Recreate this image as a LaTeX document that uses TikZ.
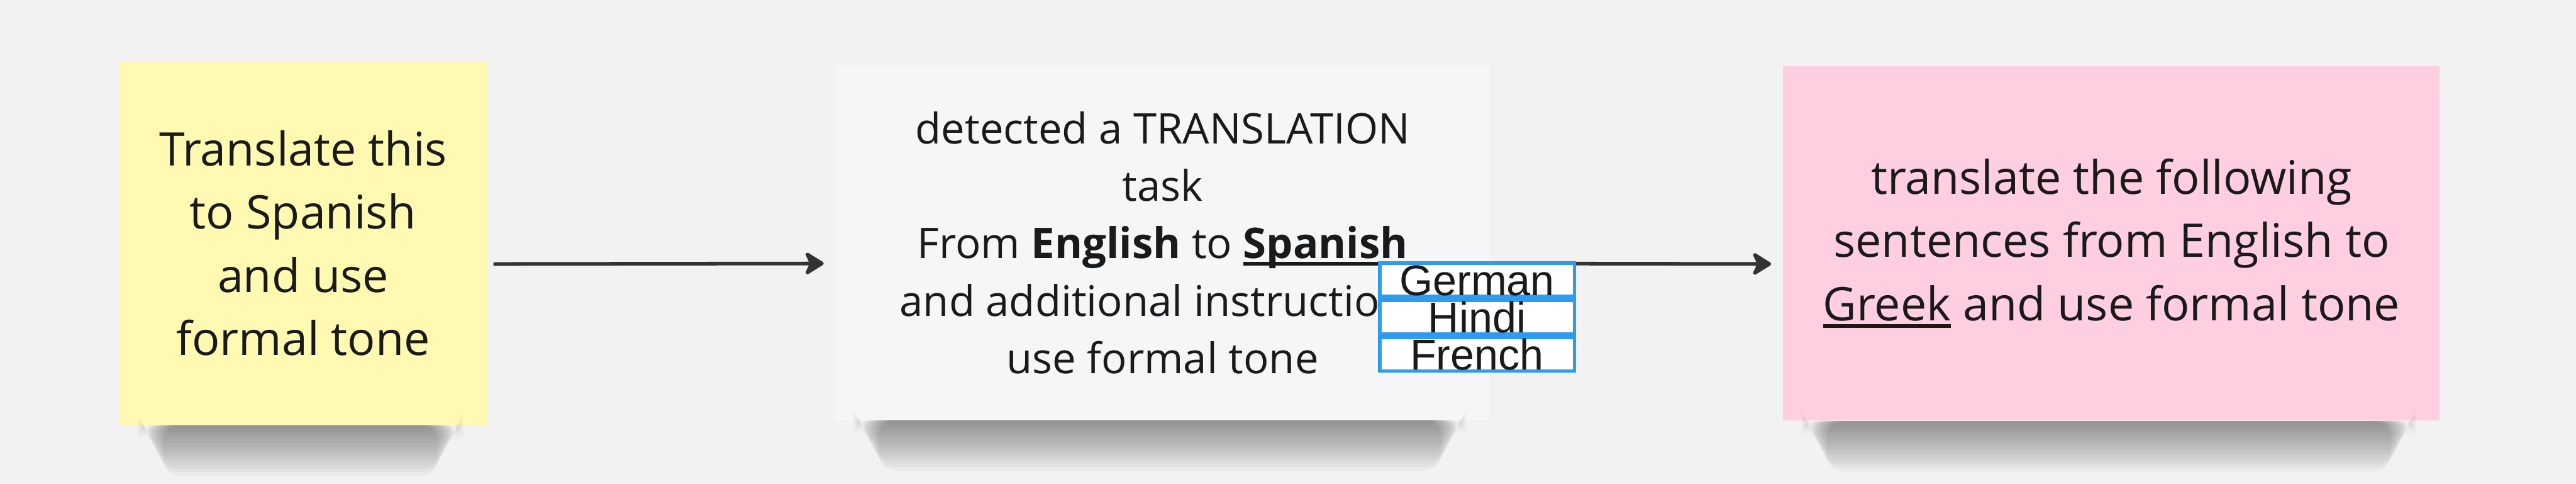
\documentclass[tikz,border=0pt]{standalone}
\usepackage{fontspec}
\setmainfont{Open Sans}
\newfontfamily\listfont{Liberation Sans}
\usetikzlibrary{arrows.meta, positioning}

\definecolor{canvas}{HTML}{F2F2F2}
\definecolor{stickyyellow}{HTML}{FFF9B1}
\definecolor{stickypink}{HTML}{FFCEE0}
\definecolor{cardwhite}{HTML}{F5F6F8}
\definecolor{pickblue}{HTML}{2E9BEE}
\definecolor{inkdark}{HTML}{1A1A1A}
\definecolor{arrowgray}{HTML}{333333}

% subrayado grueso
\newsavebox{\ulbox}
\newcommand{\undl}[1]{\sbox{\ulbox}{#1}\rlap{\rule[-0.16em]{\wd\ulbox}{0.08em}}\usebox{\ulbox}}

% sombra suave bajo una nota
\newcommand{\noteshadow}[1]{%
  \foreach \k in {1,...,14}{
    \fill[black, opacity=0.032, rounded corners=3mm]
      ([xshift={3mm+\k*0.35mm}]#1.south west) rectangle
      ([xshift={-4mm-\k*0.35mm}, yshift={-\k*0.65mm}]#1.south east);
  }}

\tikzset{
  note/.style={rectangle, align=center, text=inkdark, inner sep=0pt},
  flow/.style={draw=arrowgray, line width=1.85pt,
    -{Stealth[length=3.9mm, width=4.8mm, inset=1.1mm, round]}},
  choice/.style={draw=pickblue, fill=white, line width=1.85pt,
    minimum width=3.49cm, minimum height=0.6cm, inner sep=0pt,
    text height=0.55cm, text depth=0pt, text=inkdark,
    font=\listfont\fontsize{21.9}{22}\selectfont}
}

\begin{document}
\begin{tikzpicture}

% Lienzo
\fill[canvas] (0,0) rectangle (46.14,8.66);
\useasboundingbox (0,0) rectangle (46.14,8.66);

% Notas
\node[note, fill=stickyyellow, minimum width=6.58cm, minimum height=6.49cm,
  font=\fontsize{23.6}{32.2}\selectfont] (prompt) at (5.43,4.305)
  {Translate this\\to Spanish\\and use\\formal tone};

\node[note, fill=cardwhite, minimum width=11.73cm, minimum height=6.33cm,
  font=\fontsize{21.5}{29.3}\selectfont] (detect) at (20.825,4.315)
  {detected a TRANSLATION\\task\\From \textbf{English} to \undl{\textbf{Spanish}}\\and additional instructions\\use formal tone};

\node[note, fill=stickypink, minimum width=11.76cm, minimum height=6.35cm,
  font=\fontsize{23.6}{32.2}\selectfont] (result) at (37.82,4.305)
  {translate the following\\sentences from English to\\\undl{Greek} and use formal tone};

% Sombras
\noteshadow{prompt}
\noteshadow{detect}
\noteshadow{result}

% Flechas
\draw[flow, shorten <=1.1mm, shorten >=2mm] ([yshift=-3.7mm]prompt.east) -- ([yshift=-3.7mm]detect.west);
\draw[flow, shorten >=2.1mm] ([yshift=-3.7mm]detect.east) -- ([yshift=-3.7mm]result.west);

% Lista de idiomas
\node[choice] (german) at (26.455,3.65) {German};
\node[choice, below=0pt of german] (hindi) {Hindi};
\node[choice, below=0pt of hindi] (french) {French};

\end{tikzpicture}
\end{document}
